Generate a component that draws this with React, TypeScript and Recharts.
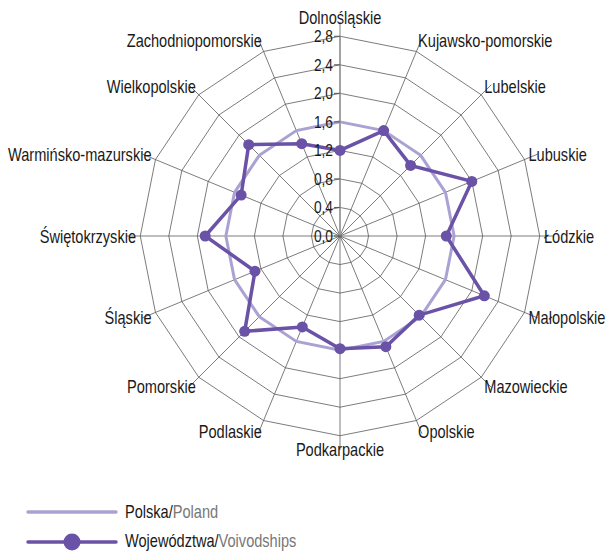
import React from "react";
import {
  RadarChart,
  Radar,
  PolarGrid,
  PolarAngleAxis,
  PolarRadiusAxis,
} from "recharts";

const regions = [
  "Dolnośląskie",
  "Kujawsko-pomorskie",
  "Lubelskie",
  "Lubuskie",
  "Łódzkie",
  "Małopolskie",
  "Mazowieckie",
  "Opolskie",
  "Podkarpackie",
  "Podlaskie",
  "Pomorskie",
  "Śląskie",
  "Świętokrzyskie",
  "Warmińsko-mazurskie",
  "Wielkopolskie",
  "Zachodniopomorskie",
];

const polska = [1.6, 1.6, 1.6, 1.6, 1.6, 1.6, 1.6, 1.6, 1.6, 1.6, 1.6, 1.6, 1.6, 1.6, 1.6, 1.6];
const wojewodztwa = [1.2, 1.6, 1.4, 2.0, 1.49, 2.19, 1.57, 1.68, 1.58, 1.38, 1.89, 1.29, 1.89, 1.5, 1.81, 1.4];

const radiusTicks = [0, 0.4, 0.8, 1.2, 1.6, 2.0, 2.4, 2.8];

const LIGHT = "#aaa2d2";
const DARK = "#6a52a6";
const FONT = "'Liberation Sans', Arial, sans-serif";
const SX = 0.81;

const data = regions.map((name, i) => ({
  name,
  polska: polska[i],
  woj: wojewodztwa[i],
}));

const CX = 340;
const CY = 236;
const R = 201;

const AngleTick = (props: any) => {
  const { payload } = props;
  const a = (payload.coordinate * Math.PI) / 180;
  const c = Math.cos(a);
  const s = Math.sin(a);
  const x = CX + c * (R + 3);
  let y = CY - s * (R + 3);
  let anchor: "start" | "middle" | "end" = "middle";
  if (c > 0.1) anchor = "start";
  else if (c < -0.1) anchor = "end";
  if (Math.abs(c) <= 0.1) {
    y = s > 0 ? CY - R - 18 : CY + R + 12;
  } else {
    y = y - s * 8;
  }
  return (
    <text
      transform={`translate(${x},${y}) scale(${SX},1)`}
      textAnchor={anchor}
      dominantBaseline="central"
      fontFamily={FONT}
      fontSize={18}
      fill="#1a1a1a"
    >
      {payload.value}
    </text>
  );
};

const RadiusTick = (props: any) => {
  const { x, y, payload } = props;
  return (
    <g>
      <line x1={x - 6} y1={y} x2={x} y2={y} stroke="#555" strokeWidth={1} />
      <text
        transform={`translate(${x - 7},${y}) scale(0.86,1)`}
        textAnchor="end"
        dominantBaseline="central"
        fontFamily={FONT}
        fontSize={16}
        fill="#1a1a1a"
      >
        {Number(payload.value).toFixed(1).replace(".", ",")}
      </text>
    </g>
  );
};

const VoivDot = (props: any) => (
  <circle key={`d-${props.index}`} cx={props.cx} cy={props.cy} r={5.5} fill={DARK} />
);

const LegendBox = () => (
  <svg width={608} height={71} style={{ position: "absolute", left: 0, top: 480 }}>
    <line x1={28} y1={32} x2={116} y2={32} stroke={LIGHT} strokeWidth={3.5} strokeLinecap="round" />
    <text transform={`translate(125,31) scale(${SX},1)`} dominantBaseline="central" fontFamily={FONT} fontSize={18}>
      <tspan fill="#1a1a1a">Polska/</tspan>
      <tspan fill="#777">Poland</tspan>
    </text>
    <line x1={28} y1={62} x2={116} y2={62} stroke={DARK} strokeWidth={3.5} strokeLinecap="round" />
    <circle cx={72} cy={62} r={8.5} fill={DARK} />
    <text transform={`translate(125,60) scale(${SX},1)`} dominantBaseline="central" fontFamily={FONT} fontSize={18}>
      <tspan fill="#1a1a1a">Województwa/</tspan>
      <tspan fill="#777">Voivodships</tspan>
    </text>
  </svg>
);

export default function App() {
  return (
    <div style={{ position: "absolute", left: 0, top: 0, width: 608, height: 551, background: "#fff" }}>
      <RadarChart
        width={608}
        height={551}
        data={data}
        cx={CX}
        cy={CY}
        outerRadius={214}
        margin={{ top: 0, right: 0, bottom: 0, left: 0 }}
      >
        <PolarGrid gridType="polygon" stroke="#5a5a5a" strokeWidth={0.8} />
        <PolarAngleAxis dataKey="name" tick={<AngleTick />} tickLine={false} axisLine={false} />
        <PolarRadiusAxis
          angle={90}
          type="number"
          scale="linear"
          domain={[0, 2.8]}
          ticks={radiusTicks as any}
          allowDataOverflow
          orientation="left"
          axisLine={{ stroke: "#999", strokeWidth: 1.5 }}
          tick={<RadiusTick />}
        />
        <Radar
          dataKey="polska"
          stroke={LIGHT}
          strokeWidth={3}
          fill="none"
          fillOpacity={0}
          dot={false}
          isAnimationActive={false}
        />
        <Radar
          dataKey="woj"
          stroke={DARK}
          strokeWidth={3.5}
          fill="none"
          fillOpacity={0}
          dot={VoivDot}
          isAnimationActive={false}
        />
      </RadarChart>
      <LegendBox />
    </div>
  );
}
